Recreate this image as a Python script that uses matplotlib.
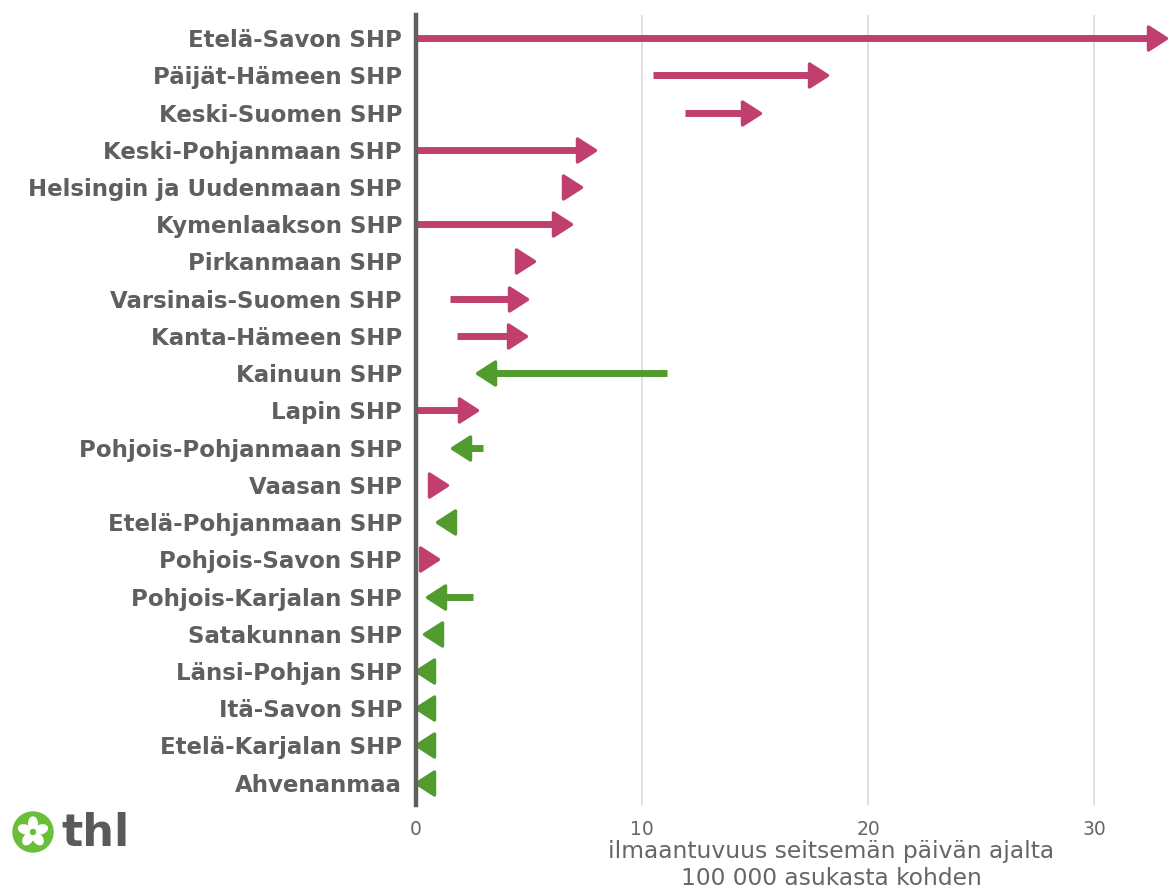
import matplotlib
matplotlib.use("Agg")
import matplotlib.pyplot as plt
from matplotlib.patches import Circle, Ellipse
from matplotlib.markers import MarkerStyle
from matplotlib.path import Path
import numpy as np

regions = ["Etelä-Savon SHP", "Päijät-Hämeen SHP", "Keski-Suomen SHP", "Keski-Pohjanmaan SHP",
           "Helsingin ja Uudenmaan SHP", "Kymenlaakson SHP", "Pirkanmaan SHP", "Varsinais-Suomen SHP",
           "Kanta-Hämeen SHP", "Kainuun SHP", "Lapin SHP", "Pohjois-Pohjanmaan SHP", "Vaasan SHP",
           "Etelä-Pohjanmaan SHP", "Pohjois-Savon SHP", "Pohjois-Karjalan SHP", "Satakunnan SHP",
           "Länsi-Pohjan SHP", "Itä-Savon SHP", "Etelä-Karjalan SHP", "Ahvenanmaa"]
previous = [0.0, 10.5, 11.9, 0.0, 6.6, 0.0, 4.6, 1.5, 1.8, 11.1, 0.0, 2.95, 0.6,
            1.7, 0.2, 2.5, 1.1, 0.6, 0.6, 0.6, 0.6]
current = [33.2, 18.2, 15.2, 7.9, 7.3, 6.85, 5.2, 4.9, 4.85, 2.7, 2.7, 1.6, 1.35,
           0.95, 0.98, 0.5, 0.37, 0.0, 0.0, 0.0, 0.0]
xticks = [0, 10, 20, 30]

PINK = "#c03f6e"
GREEN = "#529b2f"
GRAY = "#5f5f5f"

fig = plt.figure(figsize=(11.7, 8.91), dpi=100)
ax = fig.add_axes([416/1170, (891-805)/891, (1170-416)/1170, (805-15)/891])
n = len(regions)
ax.set_xlim(0, 33.36)
ax.set_ylim(-0.6, n - 1 + 0.62)

for xv in xticks[1:]:
    ax.axvline(xv, color="#dcdce2", lw=1.3, zorder=0)

HEAD_PT = 13.0  # head length in points (marker half-size)
mk_size = 2 * HEAD_PT
right_path = Path([(0, 0), (-1, 0.64), (-1, -0.64), (0, 0)],
                  [Path.MOVETO, Path.LINETO, Path.LINETO, Path.CLOSEPOLY])
left_path = Path([(0, 0), (1, 0.64), (1, -0.64), (0, 0)],
                 [Path.MOVETO, Path.LINETO, Path.LINETO, Path.CLOSEPOLY])
right_mk = MarkerStyle(right_path, joinstyle="round")
left_mk = MarkerStyle(left_path, joinstyle="round")

# head length in data units (through the axes transform)
fig.canvas.draw()
p0 = ax.transData.transform((0, 0))
head_data = ax.transData.inverted().transform((p0[0] + HEAD_PT * fig.dpi / 72 * 0.9, p0[1]))[0]

for i, (r, a, b) in enumerate(zip(regions, previous, current)):
    y = n - 1 - i
    up = b >= a
    col = PINK if up else GREEN
    d = 1 if up else -1
    base = b - d * head_data
    if (base - a) * d > 0:
        ax.plot([a, base], [y, y], color=col, lw=5.0, solid_capstyle="butt",
                clip_on=False, zorder=3)
    ax.plot([b], [y], marker=right_mk if up else left_mk, markersize=mk_size,
            color=col, markeredgecolor=col, markeredgewidth=2.4, linestyle="none",
            clip_on=False, zorder=4)

ax.set_yticks(range(n))
ax.set_yticklabels(regions[::-1], fontsize=16.5, fontweight="bold", color=GRAY)
ax.set_xticks(xticks)
ax.set_xticklabels([str(t) for t in xticks], fontsize=13.5, color="#666666")
ax.tick_params(axis="both", length=0)
ax.tick_params(axis="y", pad=10)
ax.tick_params(axis="x", pad=11)
for s in ["top", "right", "bottom"]:
    ax.spines[s].set_visible(False)
ax.spines["left"].set_color(GRAY)
ax.spines["left"].set_linewidth(3.2)
ax.spines["left"].set_zorder(5)
ax.set_facecolor("none")

fig.text(831/1170, 1 - 865/891, "ilmaantuvuus seitsemän päivän ajalta\n100 000 asukasta kohden",
         ha="center", va="center", fontsize=16.8, color="#666666", linespacing=1.25)

# logo
lax = fig.add_axes([0, 0, 1, 1], facecolor="none")
lax.set_xlim(0, 1170)
lax.set_ylim(891, 0)
lax.set_axis_off()
cx, cy, rr = 33, 832, 20
lax.add_patch(Circle((cx, cy), rr, color="#6abf3a", zorder=1))
for k in range(5):
    ang = np.deg2rad(90 + 72 * k)
    px, py = cx + 8.5 * np.cos(ang), cy - 8.5 * np.sin(ang)
    lax.add_patch(Ellipse((px, py), 8.5, 13, angle=-(72 * k), color="white", zorder=2))
lax.add_patch(Circle((cx, cy), 2.5, color="#6abf3a", zorder=3))
lax.text(61, 834, "thl", fontsize=32, fontweight="heavy", color="#5a5a5a",
         ha="left", va="center")

fig.savefig("out.png", dpi=100)
